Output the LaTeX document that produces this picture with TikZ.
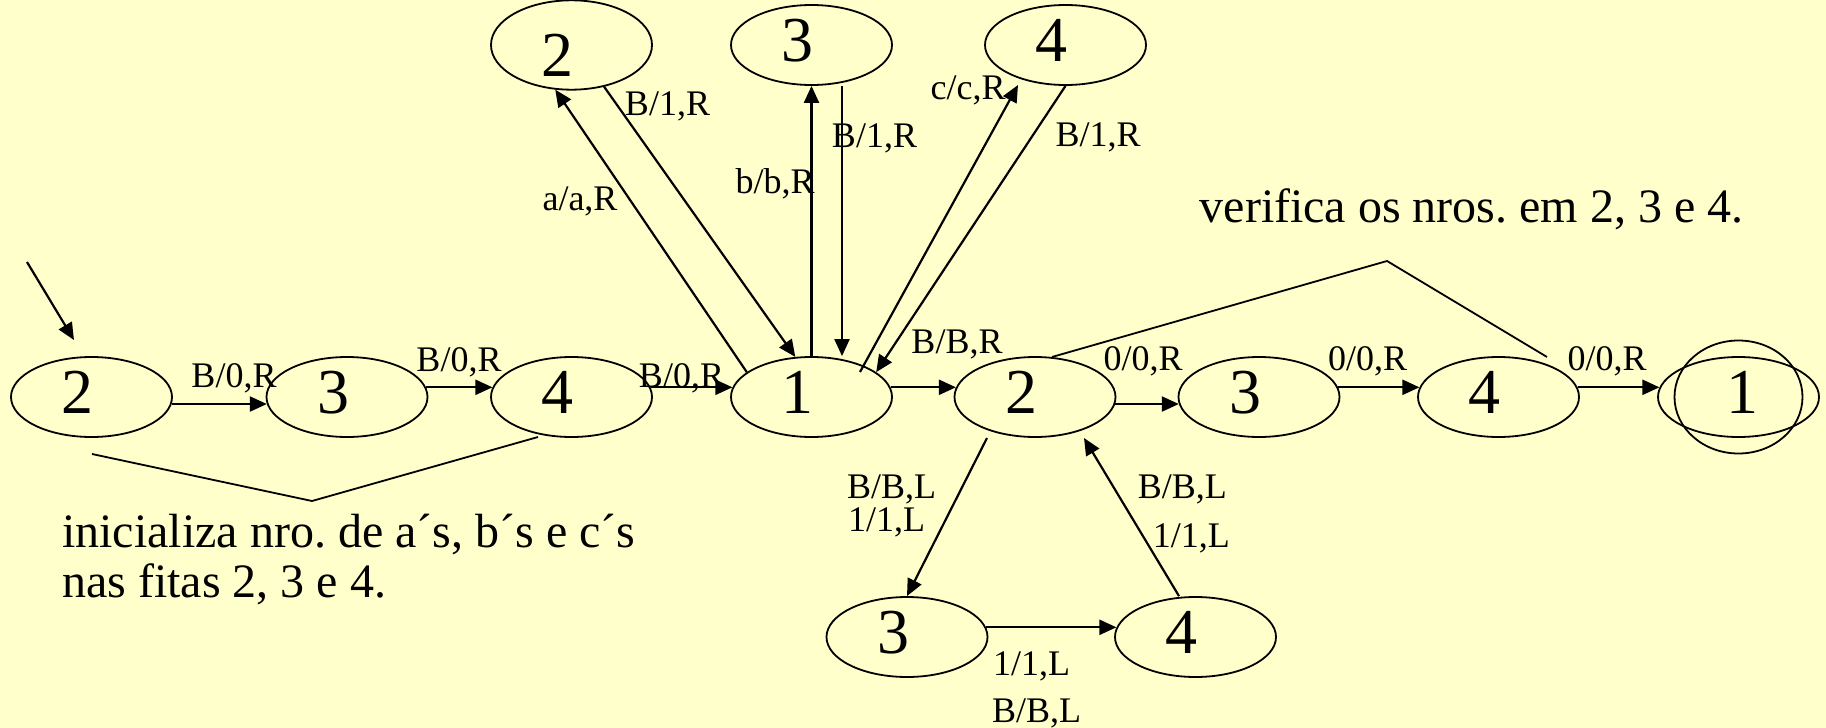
\documentclass[tikz,border=0pt]{standalone}
\usepackage{fontspec}
\setmainfont{Liberation Serif}
\usetikzlibrary{arrows.meta,shapes.geometric,calc}
\definecolor{bgc}{RGB}{255,255,204}
\newcommand\stlab[1]{#1\hspace*{28pt}}
\frenchspacing
\begin{document}
\begin{tikzpicture}[x=1pt,y=-1pt,
  st/.style={ellipse,draw,line width=1.8pt,minimum width=161pt,minimum height=80pt,inner sep=0pt,
    font=\fontsize{64}{64}\selectfont,text height=43.3pt,text depth=10.1pt},
  arr/.style={line width=2.2pt,-{Triangle[length=17pt,width=15pt]}},
  lbl/.style={font=\fontsize{36}{40}\selectfont,anchor=base,inner sep=0pt},
  lblw/.style={lbl,anchor=base west},
  lble/.style={lbl,anchor=base east},
  big/.style={font=\fontsize{48}{56}\selectfont,anchor=base west,inner sep=0pt},
  brk/.style={line width=1.8pt}]
\fill[bgc] (0,0) rectangle (1826,728);
\useasboundingbox (0,0) rectangle (1826,728);

% states
\node[st] (A2) at (91.5,397) {\stlab{2}};
\node[st] (A3) at (347,397) {\stlab{3}};
\node[st] (A4) at (571.5,397) {\stlab{4}};
\node[st] (C1) at (811.5,397) {\stlab{1}};
\node[st] (D2) at (1035,397) {\stlab{2}};
\node[st] (D3) at (1259,397) {\stlab{3}};
\node[st] (D4) at (1498.5,397) {\stlab{4}};
\node[st] (F) at (1738.5,397) {\hspace*{7pt}1};
\node[st,minimum width=128pt,minimum height=113pt] (F2) at (1738.5,397) {};
\node[st,text height=63.2pt,text depth=0pt] (T2) at (571.5,45) {\stlab{2}};
\node[st] (T3) at (811.5,45) {\stlab{3}};
\node[st] (T4) at (1065.5,45) {\stlab{4}};
\node[st] (B3) at (907,637) {\stlab{3}};
\node[st] (B4) at (1195.5,637) {\stlab{4}};

% start arrow
\coordinate (s0) at (27,262);
\coordinate (s1) at (74,340);
\draw[arr] (s0) -- (s1);

% main row
\draw[arr] (A2.-5) -- (A3.185);
\draw[arr] (A3.7) -- (A4.173);
\draw[arr] (A4.7) -- (C1.173);
\draw[arr] (C1.7) -- (D2.173);
\draw[arr] (D2.-5) -- (D3.185);
\draw[arr] (D3.7) -- (D4.173);
\draw[arr] (D4.7) -- (F.173);

% top
\draw[arr] (C1.159) -- (T2.250);
\draw[arr] (T2.308) -- (C1.112);
\draw[arr] (C1.north) -- (T3.south);
\draw[arr] ([xshift=30.5pt]T3.south) -- ([xshift=30.5pt]C1.north);
\draw[arr] ([xshift=48.5pt,yshift=25pt]C1.center) -- ([xshift=-47.5pt,yshift=-40pt]T4.center);
\draw[arr] (T4.south) -- (C1.21);

% bottom
\draw[arr] ([xshift=-48pt,yshift=-41pt]D2.center) -- (B3.north);
\draw[arr] ([xshift=-16.5pt]B4.north) -- ([xshift=49pt,yshift=-41pt]D2.center);
\draw[arr] (B3.7) -- (B4.173);

% labels
\node[lbl] (l1) at (234,387) {B/0,R};
\node[lbl] (l2) at (459,371) {B/0,R};
\node[lbl] (l3) at (681.5,387) {B/0,R};
\node[lbl] (l4) at (957,353) {B/B,R};
\node[lbl] (l5) at (1143,370) {0/0,R};
\node[lbl] (l6) at (1367.5,370) {0/0,R};
\node[lbl] (l7) at (1607,370) {0/0,R};
\node[lbl] (l8) at (580,210) {a/a,R};
\node[lbl] (l9) at (667.5,115) {B/1,R};
\node[lbl] (l10) at (775,193) {b/b,R};
\node[lbl] (l11) at (874.5,147) {B/1,R};
\node[lbl] (l12) at (968,99) {c/c,R};
\node[lbl] (l13) at (1098,146) {B/1,R};
\node[lblw] (l14) at (847,498) {B/B,L};
\node[lblw] (l15) at (848,531) {1/1,L};
\node[lble] (l16) at (1227,498) {B/B,L};
\node[lble] (l17) at (1230,547) {1/1,L};
\node[lblw] (l18) at (993,675) {1/1,L};
\node[lblw] (l19) at (992,722) {B/B,L};

% annotations
\coordinate (bl1) at (92,454);
\coordinate (bv1) at (312,501);
\coordinate (br1) at (538,437);
\draw[brk] (bl1) -- (bv1) -- (br1);
\coordinate (bl2) at (1052,357);
\coordinate (bv2) at (1387,261);
\coordinate (br2) at (1547,357);
\draw[brk] (bl2) -- (bv2) -- (br2);

\node[big] (t1) at (62,547) {inicializa nro. de a´s, b´s e c´s};
\node[big] (t2) at (62,597) {nas fitas 2, 3 e 4.};
\node[big] (t3) at (1199.5,222) {verifica os nros. em 2, 3 e 4.};
\end{tikzpicture}
\end{document}
